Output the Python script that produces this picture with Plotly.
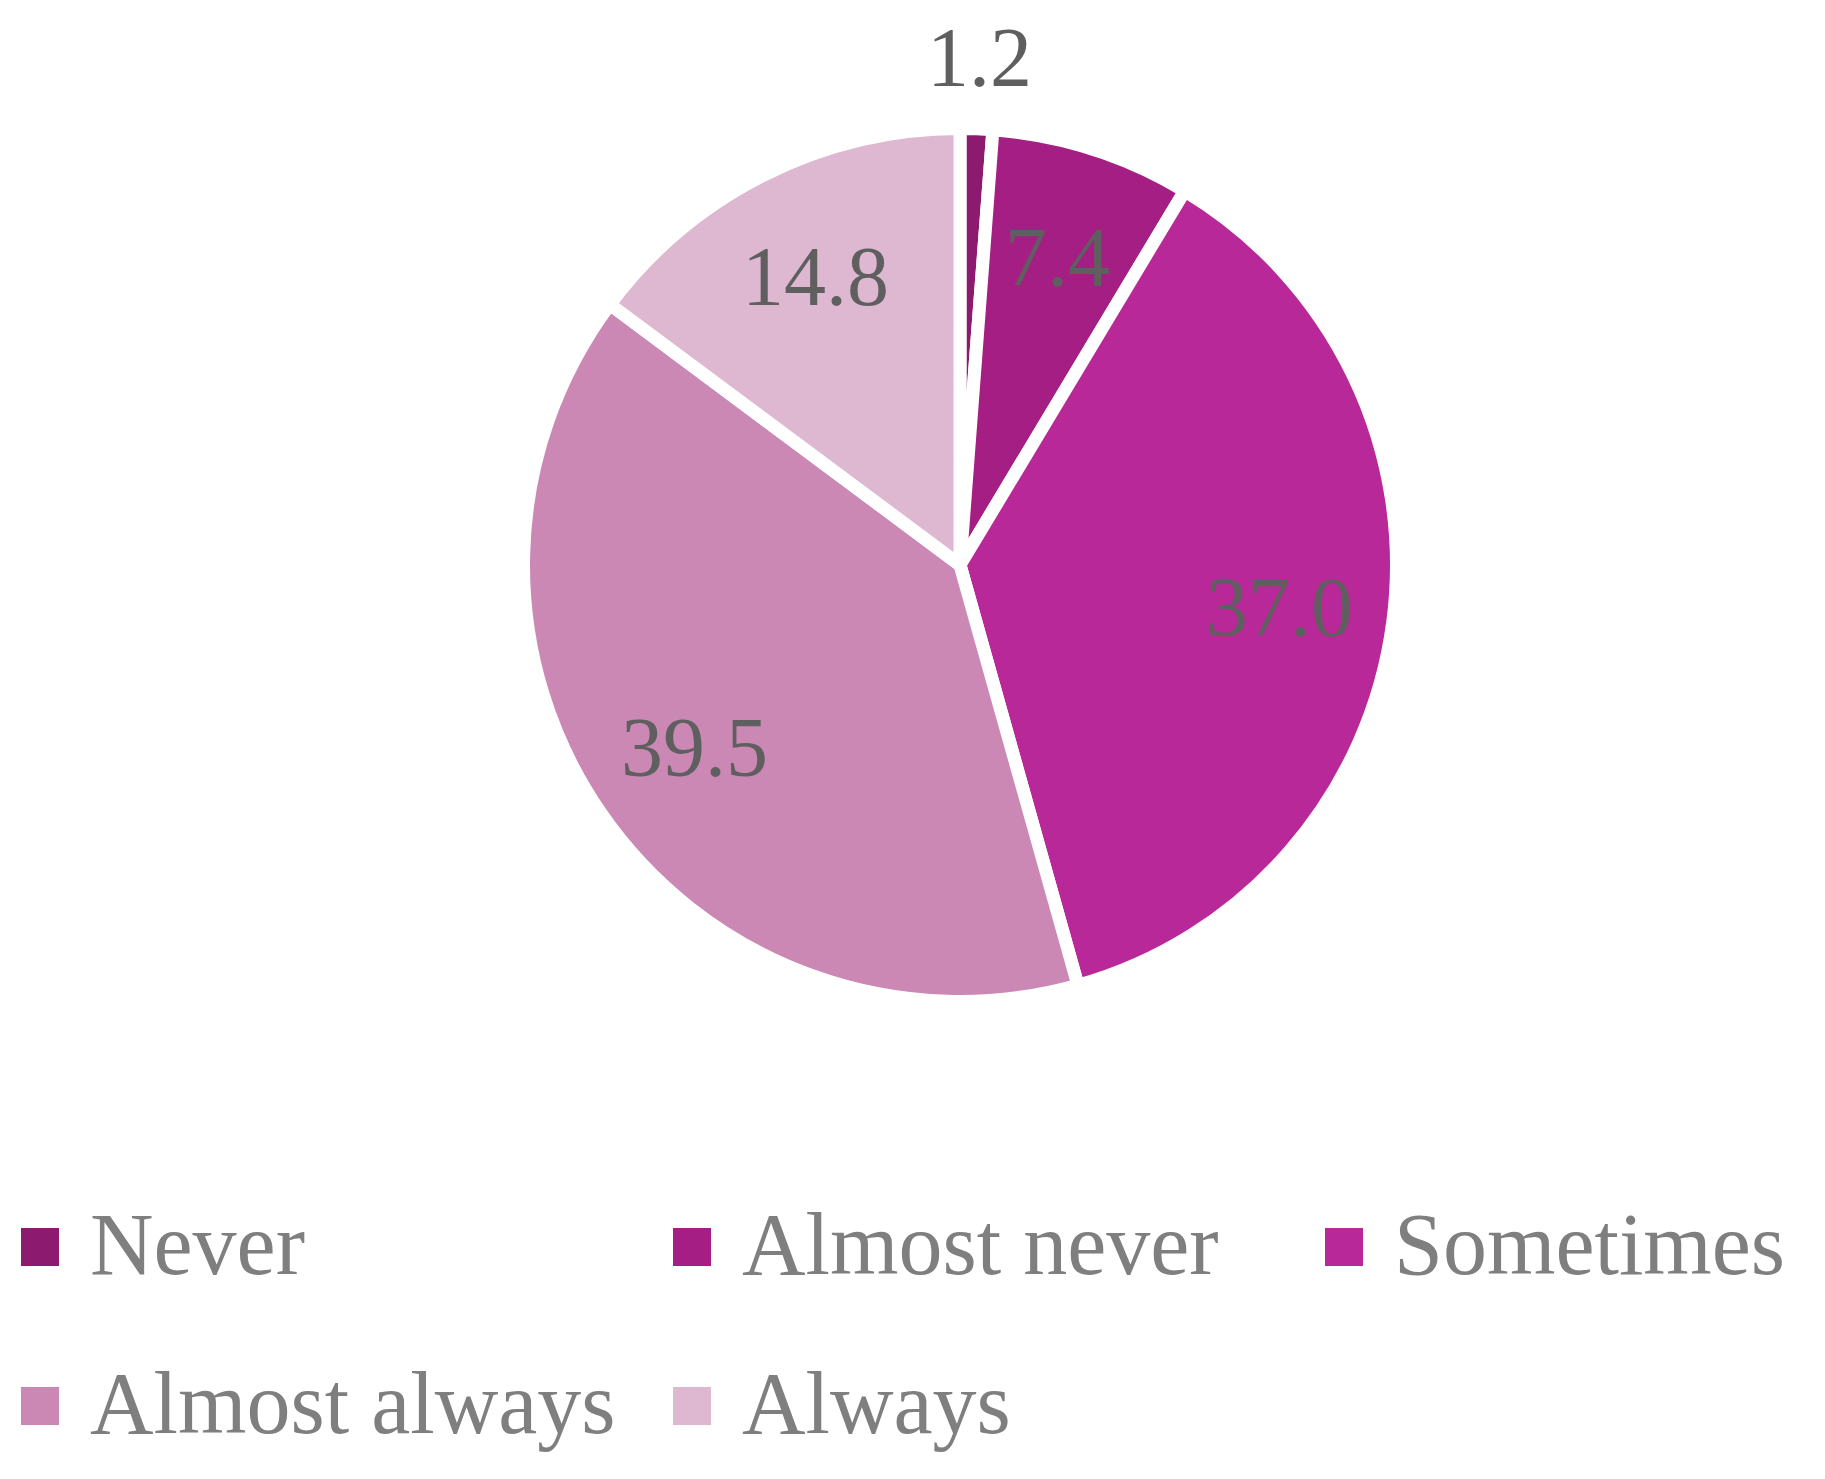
import math
import plotly.graph_objects as go

# ---- data ----
categories = ["Never", "Almost never", "Sometimes", "Almost always", "Always"]
values = [1.2, 7.4, 37.0, 39.5, 14.8]
colors = ["#8C1A6E", "#A51E83", "#B92898", "#CC88B4", "#DEB7D0"]
label_positions = ["outside", "inside", "inside", "inside", "inside"]

# ---- layout constants (pixels) ----
W, H = 1825, 1479
OFF = 8  # default page body margin compensation
FONT = "Liberation Serif, Times New Roman, serif"
LABEL_COLOR = "#5F5F5F"
LEGEND_COLOR = "#7F7F7F"
cx, cy = 960 - OFF, 565 - OFF
R = 430
border = 13

fig = go.Figure(
    go.Pie(
        labels=categories,
        values=values,
        sort=False,
        direction="clockwise",
        rotation=0,
        marker=dict(colors=colors, line=dict(color="white", width=border)),
        textinfo="none",
        hoverinfo="label+value",
        showlegend=False,
        domain=dict(
            x=[(cx - R - border / 2) / W, (cx + R + border / 2) / W],
            y=[1 - (cy + R + border / 2) / H, 1 - (cy - R - border / 2) / H],
        ),
    )
)

annotations = []
shapes = []

# data labels, placed along each slice's mid-angle
total = sum(values)
cum = 0.0
for v, pos in zip(values, label_positions):
    ang = 2 * math.pi * (cum + v / 2) / total
    cum += v
    r = R * (1.18 if pos == "outside" else 0.75)
    x = cx + r * math.sin(ang)
    y = cy - r * math.cos(ang)
    annotations.append(dict(
        x=x / W, y=1 - y / H, xref="paper", yref="paper",
        text=f"{v:.1f}", showarrow=False, xanchor="center", yanchor="middle",
        font=dict(family=FONT, size=84, color=LABEL_COLOR),
    ))

# legend (3 columns, 2 rows)
col_w, row_h = 652, 159
x_start, y_start = 21 - OFF, 1249 - OFF - 2
sq = 38
for i, (name, c) in enumerate(zip(categories, colors)):
    col, row = i % 3, i // 3
    x0 = x_start + col * col_w
    yc = y_start + row * row_h
    shapes.append(dict(
        type="rect", xref="paper", yref="paper",
        x0=x0 / W, x1=(x0 + sq) / W,
        y0=1 - (yc + sq / 2) / H, y1=1 - (yc - sq / 2) / H,
        fillcolor=c, line=dict(width=0),
    ))
    annotations.append(dict(
        x=(x0 + sq + 29) / W, y=1 - (yc - 3) / H, xref="paper", yref="paper",
        text=name, showarrow=False, xanchor="left", yanchor="middle",
        font=dict(family=FONT, size=88, color=LEGEND_COLOR),
    ))

fig.update_layout(
    width=W, height=H,
    margin=dict(l=0, r=0, t=0, b=0),
    paper_bgcolor="white", plot_bgcolor="white",
    annotations=annotations, shapes=shapes,
    showlegend=False,
)

fig.write_html("out.html")
